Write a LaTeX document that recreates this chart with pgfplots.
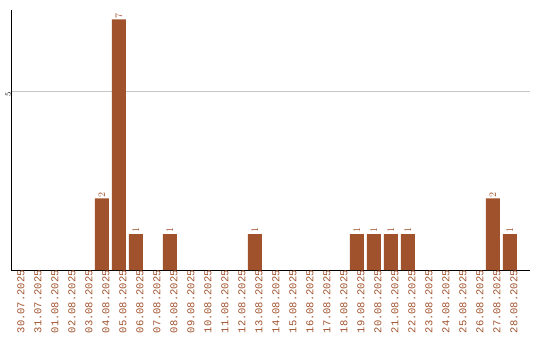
\documentclass[border=0pt]{standalone}
\usepackage{pgfplots}
\pgfplotsset{compat=1.18}
\usepackage{fontspec}
\setmonofont{Liberation Mono}
\definecolor{bar}{HTML}{A0522D}
\begin{document}
\begin{tikzpicture}
\path[use as bounding box] (-11pt,-70pt) rectangle (529pt,270pt);
\begin{axis}[
  scale only axis, width=519pt, height=260pt,
  xmin=-0.35, xmax=30.18, ymin=0, ymax=7.26,
  axis lines*=left, axis line style={-, black, line width=0.8pt},
  ytick={5}, ymajorgrids, grid style={gray!45, line width=0.6pt},
  major tick length=0pt,
  xtick={0,...,29},
  xticklabels={30.07.2025,31.07.2025,01.08.2025,02.08.2025,03.08.2025,04.08.2025,05.08.2025,06.08.2025,07.08.2025,08.08.2025,09.08.2025,10.08.2025,11.08.2025,12.08.2025,13.08.2025,14.08.2025,15.08.2025,16.08.2025,17.08.2025,18.08.2025,19.08.2025,20.08.2025,21.08.2025,22.08.2025,23.08.2025,24.08.2025,25.08.2025,26.08.2025,27.08.2025,28.08.2025},
  xticklabel style={rotate=90, anchor=east, font=\ttfamily\fontsize{10.5}{10.5}\selectfont, text=bar, inner sep=0pt, yshift=-4pt},
  yticklabel style={rotate=90, anchor=south, font=\ttfamily\fontsize{8}{8}\selectfont, inner sep=0pt, xshift=-3pt},
  ybar, bar width=14pt,
  nodes near coords,
  every node near coord/.append style={rotate=90, anchor=west, font=\ttfamily\fontsize{10}{10}\selectfont, text=bar, inner sep=1pt},
]
\addplot[fill=bar, draw=none] coordinates {
(5,2) (6,7) (7,1) (9,1) (14,1) (20,1) (21,1) (22,1) (23,1) (28,2) (29,1)
};
\end{axis}
\end{tikzpicture}
\end{document}
